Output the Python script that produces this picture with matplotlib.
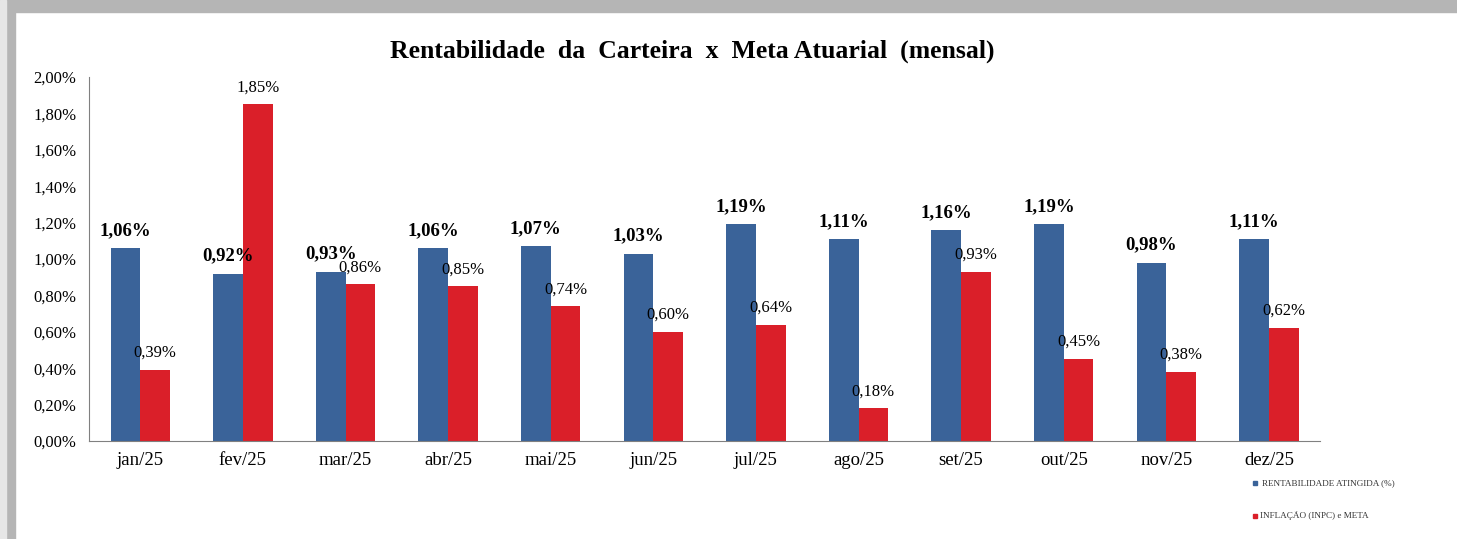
import matplotlib.pyplot as plt
import matplotlib.patches as mpatches
import numpy as np

# monthly data (%)
meses = ['jan/25', 'fev/25', 'mar/25', 'abr/25', 'mai/25', 'jun/25',
         'jul/25', 'ago/25', 'set/25', 'out/25', 'nov/25', 'dez/25']
rentabilidade = [1.06, 0.92, 0.93, 1.06, 1.07, 1.03, 1.19, 1.11, 1.16, 1.19, 0.98, 1.11]
meta = [0.39, 1.85, 0.86, 0.85, 0.74, 0.60, 0.64, 0.18, 0.93, 0.45, 0.38, 0.62]
yticks = [0.0, 0.2, 0.4, 0.6, 0.8, 1.0, 1.2, 1.4, 1.6, 1.8, 2.0]

azul = '#3A6399'
vermelho = '#DA1F29'

plt.rcParams['font.family'] = ['Liberation Serif', 'DejaVu Serif']

fig = plt.figure(figsize=(14.57, 5.39), dpi=100)

# gray window border (left and top)
fig.patches.append(mpatches.Rectangle((0, 0), 0.0105, 1, transform=fig.transFigure,
                                      color='#B5B5B5', zorder=0))
fig.patches.append(mpatches.Rectangle((0, 0.978), 1, 0.022, transform=fig.transFigure,
                                      color='#B5B5B5', zorder=0))
fig.patches.append(mpatches.Rectangle((0.0, 0), 0.004, 1, transform=fig.transFigure,
                                      color='#E6E6E6', zorder=0))

ax = fig.add_axes([0.0611, 0.1818, 0.845, 0.6753])

x = np.arange(len(meses))
w = 0.29
ax.bar(x - w / 2, rentabilidade, w, color=azul, label='RENTABILIDADE ATINGIDA (%)')
ax.bar(x + w / 2, meta, w, color=vermelho, label='INFLAÇÃO (INPC) e META')

for xi, v in zip(x, rentabilidade):
    ax.text(xi - w / 2, v + 0.05, f'{v:.2f}%'.replace('.', ','), ha='center', va='bottom',
            fontsize=13.5, fontweight='bold')
for xi, v in zip(x, meta):
    ax.text(xi + w / 2, v + 0.05, f'{v:.2f}%'.replace('.', ','), ha='center', va='bottom',
            fontsize=12)

ax.set_xlim(-0.5, len(meses) - 0.5)
ax.set_ylim(0, 2.0)
ax.set_yticks(yticks)
ax.set_yticklabels([f'{t:.2f}%'.replace('.', ',') for t in yticks], fontsize=12)
ax.set_xticks(x)
ax.set_xticklabels(meses, fontsize=13.5)
ax.tick_params(axis='x', length=0, pad=8)
ax.tick_params(axis='y', length=0, pad=9)
for s in ['top', 'right']:
    ax.spines[s].set_visible(False)
ax.spines['left'].set_color('#808080')
ax.spines['bottom'].set_color('#808080')

fig.text(0.475, 0.904, 'Rentabilidade  da  Carteira  x  Meta Atuarial  (mensal)',
         ha='center', va='center', fontsize=18.5, fontweight='bold')

# legend at bottom right
fig.patches.append(mpatches.Rectangle((0.8597, 0.1004), 0.0028, 0.0075, transform=fig.transFigure,
                                      color=azul))
fig.text(0.8662, 0.104, 'RENTABILIDADE ATINGIDA (%)', fontsize=6.6, va='center', color='#333333')
fig.patches.append(mpatches.Rectangle((0.8597, 0.0395), 0.0028, 0.0075, transform=fig.transFigure,
                                      color=vermelho))
fig.text(0.8650, 0.043, 'INFLAÇÃO (INPC) e META', fontsize=6.6, va='center', color='#333333')

fig.savefig('out.png', dpi=100)
